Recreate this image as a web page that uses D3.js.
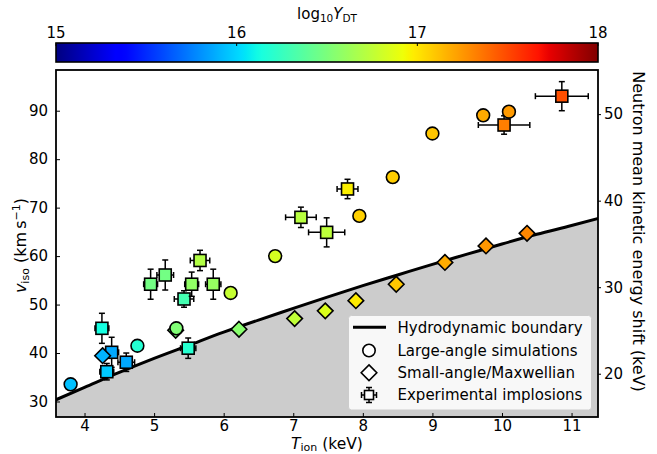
<!DOCTYPE html>
<html>
<head>
<meta charset="utf-8">
<script src="https://cdn.jsdelivr.net/npm/d3@7/dist/d3.min.js"></script>
<style>
  html, body { margin: 0; padding: 0; background: #fff; }
  svg { display: block; font-family: "DejaVu Sans", sans-serif; }
</style>
</head>
<body>
<svg id="chart" width="657" height="454"></svg>
<script>
// ---------------- data ----------------
// Hydrodynamic boundary (T_ion keV, v_iso km/s)
const boundaryT = [3.50, 4.0, 4.5, 5.0, 5.5, 6.0, 6.5, 7.0, 7.5, 8.0, 8.5, 9.0, 9.5, 10.0, 10.5, 11.0, 11.5];
const boundaryV = [29.8, 32.9, 36.0, 38.9, 41.6, 44.3, 46.8, 49.2, 51.6, 53.9, 56.1, 58.3, 60.4, 62.5, 64.5, 66.3, 68.2];

// Large-angle simulations (circles)
const largeT = [3.80, 4.76, 5.32, 6.10, 6.74, 7.95, 8.43, 9.00, 9.73, 10.10];
const largeV = [33.55, 41.5, 45.1, 52.4, 60.0, 68.3, 76.3, 85.3, 89.05, 89.8];
const largeY = [15.94, 16.18, 16.52, 16.77, 16.83, 17.07, 17.08, 17.10, 17.19, 17.24];

// Small-angle / Maxwellian (diamonds)
const smallT = [4.26, 5.31, 6.22, 7.02, 7.46, 7.90, 8.48, 9.18, 9.77, 10.36];
const smallV = [39.45, 44.7, 44.9, 47.1, 48.7, 50.8, 54.2, 58.7, 62.1, 64.7];
const smallY = [15.90, 16.50, 16.55, 16.75, 16.85, 16.98, 17.10, 17.18, 17.25, 17.30];

// Experimental implosions (squares with error bars)
const expT    = [4.25, 4.39, 4.32, 4.60, 5.49, 5.43, 4.95, 5.16, 5.54, 5.85, 5.66, 7.11, 7.48, 7.78, 10.03, 10.86];
const expV    = [45.1, 40.15, 36.15, 38.1, 41.0, 51.15, 54.2, 56.1, 54.2, 54.2, 59.1, 68.0, 64.9, 73.85, 87.05, 93.0];
const expTerr = [0.10, 0.10, 0.10, 0.12, 0.11, 0.14, 0.10, 0.12, 0.10, 0.11, 0.14, 0.22, 0.26, 0.15, 0.37, 0.38];
const expVerr = [3.1, 3.1, 1.7, 1.9, 2.1, 1.7, 3.1, 3.1, 2.5, 3.1, 2.1, 2.1, 3.0, 2.0, 1.9, 3.0];
const expY    = [16.13, 15.87, 15.97, 15.87, 16.19, 16.30, 16.47, 16.47, 16.58, 16.60, 16.70, 16.72, 16.74, 16.97, 17.33, 17.48];

const xTicks = [4, 5, 6, 7, 8, 9, 10, 11];
const yTicks = [30, 40, 50, 60, 70, 80, 90];
const yRightTicks = [20, 30, 40, 50];
const cbTicks = [15, 16, 17, 18];
const legendLabels = ["Hydrodynamic boundary", "Large-angle simulations", "Small-angle/Maxwellian", "Experimental implosions"];

// ---------------- layout ----------------
const L = 56, R = 598, T = 70, B = 417;
const svg = d3.select("#chart");

const x = d3.scaleLinear().domain([3.59, 11.38]).range([L, R]);
const y = d3.scaleLinear().domain([26.8, 98.4]).range([B, T]);
const yR = d3.scaleLinear().domain([15.0, 55.1]).range([B, T]);
const cbX = d3.scaleLinear().domain([15, 18]).range([L, R]);

// jet colormap (matplotlib segment data)
const jr = d3.scaleLinear().domain([0, 0.35, 0.66, 0.89, 1]).range([0, 0, 1, 1, 0.5]).clamp(true);
const jg = d3.scaleLinear().domain([0, 0.125, 0.375, 0.64, 0.91, 1]).range([0, 0, 1, 1, 0, 0]).clamp(true);
const jb = d3.scaleLinear().domain([0, 0.11, 0.34, 0.65, 1]).range([0.5, 1, 1, 0, 0]).clamp(true);
const norm = d3.scaleLinear().domain([15, 18]).range([0, 1]).clamp(true);
function jet(v) {
  const t = norm(v);
  return d3.rgb(jr(t) * 255, jg(t) * 255, jb(t) * 255).formatHex();
}

// ---------------- colorbar ----------------
const defs = svg.append("defs");
const grad = defs.append("linearGradient").attr("id", "jetgrad").attr("x1", "0%").attr("x2", "100%");
d3.range(0, 101).forEach(i => {
  const v = 15 + 3 * i / 100;
  grad.append("stop").attr("offset", i + "%").attr("stop-color", jet(v));
});
const cbTop = 43, cbBot = 62;
svg.append("rect").attr("x", L).attr("y", cbTop).attr("width", R - L).attr("height", cbBot - cbTop)
  .attr("fill", "url(#jetgrad)").attr("stroke", "#000").attr("stroke-width", 1.6);
svg.append("g").selectAll("line").data(cbTicks).join("line")
  .attr("x1", d => cbX(d)).attr("x2", d => cbX(d)).attr("y1", cbTop).attr("y2", cbTop + 3)
  .attr("stroke", "#000").attr("stroke-width", 1);
svg.append("g").selectAll("text").data(cbTicks).join("text")
  .attr("x", d => cbX(d)).attr("y", 38).attr("text-anchor", "middle")
  .attr("font-size", 15).attr("fill", "#000").text(d => d);
const cbTitle = svg.append("text").attr("x", (L + R) / 2).attr("y", 19).attr("text-anchor", "middle")
  .attr("font-size", 15).attr("fill", "#000");
cbTitle.append("tspan").text("log");
cbTitle.append("tspan").attr("font-size", 10.5).attr("dy", 3).text("10");
cbTitle.append("tspan").attr("dy", -3).attr("font-style", "italic").text("Y");
cbTitle.append("tspan").attr("font-size", 10.5).attr("dy", 3).text("DT");

// ---------------- plot area ----------------
defs.append("clipPath").attr("id", "plotclip").append("rect")
  .attr("x", L).attr("y", T).attr("width", R - L).attr("height", B - T);

const bpts = boundaryT.map((t, i) => [t, boundaryV[i]]);
const plot = svg.append("g").attr("clip-path", "url(#plotclip)");
plot.append("path")
  .datum(bpts)
  .attr("d", d3.area().x(d => x(d[0])).y0(B + 10).y1(d => y(d[1])).curve(d3.curveMonotoneX))
  .attr("fill", "#cccccc");
plot.append("path")
  .datum(bpts)
  .attr("d", d3.line().x(d => x(d[0])).y(d => y(d[1])).curve(d3.curveMonotoneX))
  .attr("fill", "none").attr("stroke", "#000").attr("stroke-width", 3);

// experimental squares with error bars
const expData = expT.map((t, i) => ({ t, v: expV[i], te: expTerr[i], ve: expVerr[i], c: expY[i] }));
const cap = 3;
const eg = plot.append("g");
expData.forEach(d => {
  const g = eg.append("g").attr("stroke", "#000").attr("stroke-width", 1.5);
  const cx = x(d.t), cy = y(d.v);
  const x0 = x(d.t - d.te), x1 = x(d.t + d.te), y0 = y(d.v - d.ve), y1 = y(d.v + d.ve);
  g.append("line").attr("x1", x0).attr("x2", x1).attr("y1", cy).attr("y2", cy);
  g.append("line").attr("x1", x0).attr("x2", x0).attr("y1", cy - cap).attr("y2", cy + cap);
  g.append("line").attr("x1", x1).attr("x2", x1).attr("y1", cy - cap).attr("y2", cy + cap);
  g.append("line").attr("x1", cx).attr("x2", cx).attr("y1", y0).attr("y2", y1);
  g.append("line").attr("x1", cx - cap).attr("x2", cx + cap).attr("y1", y0).attr("y2", y0);
  g.append("line").attr("x1", cx - cap).attr("x2", cx + cap).attr("y1", y1).attr("y2", y1);
  g.append("rect").attr("x", cx - 6).attr("y", cy - 6).attr("width", 12).attr("height", 12)
    .attr("fill", jet(d.c)).attr("stroke", "#000").attr("stroke-width", 1.6);
});

// diamonds
const sD = 7.8;
plot.append("g").selectAll("path").data(smallT.map((t, i) => ({ t, v: smallV[i], c: smallY[i] }))).join("path")
  .attr("d", d => `M${x(d.t)},${y(d.v) - sD}L${x(d.t) + sD},${y(d.v)}L${x(d.t)},${y(d.v) + sD}L${x(d.t) - sD},${y(d.v)}Z`)
  .attr("fill", d => jet(d.c)).attr("stroke", "#000").attr("stroke-width", 1.6).attr("stroke-linejoin", "miter");

// circles
plot.append("g").selectAll("circle").data(largeT.map((t, i) => ({ t, v: largeV[i], c: largeY[i] }))).join("circle")
  .attr("cx", d => x(d.t)).attr("cy", d => y(d.v)).attr("r", 6.4)
  .attr("fill", d => jet(d.c)).attr("stroke", "#000").attr("stroke-width", 1.6);

// ---------------- axes ----------------
const fs = 15;
const xAxis = svg.append("g").attr("transform", `translate(0,${B})`)
  .call(d3.axisBottom(x).tickValues(xTicks).tickSizeInner(-4).tickSizeOuter(0).tickPadding(3).tickFormat(d3.format("d")));
const yAxis = svg.append("g").attr("transform", `translate(${L},0)`)
  .call(d3.axisLeft(y).tickValues(yTicks).tickSizeInner(-4).tickSizeOuter(0).tickPadding(8).tickFormat(d3.format("d")));
const yAxisR = svg.append("g").attr("transform", `translate(${R},0)`)
  .call(d3.axisRight(yR).tickValues(yRightTicks).tickSizeInner(3).tickSizeOuter(0).tickPadding(3).tickFormat(d3.format("d")));
[xAxis, yAxis, yAxisR].forEach(a => {
  a.select(".domain").remove();
  a.selectAll("text").attr("font-size", fs).attr("font-family", "DejaVu Sans").attr("fill", "#000");
  a.selectAll("line").attr("stroke", "#000").attr("stroke-width", 1);
});

// frame
svg.append("rect").attr("x", L).attr("y", T).attr("width", R - L).attr("height", B - T)
  .attr("fill", "none").attr("stroke", "#000").attr("stroke-width", 1.8);

// axis titles
const xl = svg.append("text").attr("x", (L + R) / 2).attr("y", 449).attr("text-anchor", "middle")
  .attr("font-size", 15.5).attr("fill", "#000");
xl.append("tspan").attr("font-style", "italic").text("T");
xl.append("tspan").attr("font-size", 11).attr("dy", 2).text("ion");
xl.append("tspan").attr("dy", -2).text(" (keV)");

const yl = svg.append("text").attr("transform", `translate(26,${(T + B) / 2 + 2}) rotate(-90)`)
  .attr("text-anchor", "middle").attr("font-size", 16).attr("fill", "#000");
yl.append("tspan").attr("font-style", "italic").text("v");
yl.append("tspan").attr("font-size", 11).attr("dy", 3).text("iso");
yl.append("tspan").attr("dy", -3).text(" (km\u2009s");
yl.append("tspan").attr("font-size", 11).attr("dy", -6).text("\u22121");
yl.append("tspan").attr("dy", 6).text(")");

svg.append("text").attr("transform", `translate(633,${(T + B) / 2 - 12}) rotate(90)`)
  .attr("text-anchor", "middle").attr("font-size", 16).attr("fill", "#000")
  .text("Neutron mean kinetic energy shift (keV)");

// ---------------- legend ----------------
const lg = svg.append("g");
lg.append("rect").attr("x", 348.5).attr("y", 315.5).attr("width", 243).attr("height", 94.5).attr("rx", 3)
  .attr("fill", "#fff").attr("fill-opacity", 0.85).attr("stroke", "#cccccc").attr("stroke-width", 1);
const rowY = [327.3, 350.5, 372.7, 395];
const symX = 369;
lg.append("line").attr("x1", 353).attr("x2", 386).attr("y1", rowY[0]).attr("y2", rowY[0])
  .attr("stroke", "#000").attr("stroke-width", 3);
lg.append("circle").attr("cx", symX).attr("cy", rowY[1]).attr("r", 6.2)
  .attr("fill", "#fff").attr("stroke", "#000").attr("stroke-width", 1.6);
lg.append("path").attr("d", `M${symX},${rowY[2] - sD}L${symX + sD},${rowY[2]}L${symX},${rowY[2] + sD}L${symX - sD},${rowY[2]}Z`)
  .attr("fill", "#fff").attr("stroke", "#000").attr("stroke-width", 1.6);
{
  const g = lg.append("g").attr("stroke", "#000").attr("stroke-width", 1.5);
  const cy = rowY[3], e = 7.5;
  g.append("line").attr("x1", symX - e).attr("x2", symX + e).attr("y1", cy).attr("y2", cy);
  g.append("line").attr("x1", symX).attr("x2", symX).attr("y1", cy - e).attr("y2", cy + e);
  [-e, e].forEach(o => {
    g.append("line").attr("x1", symX + o).attr("x2", symX + o).attr("y1", cy - cap).attr("y2", cy + cap);
    g.append("line").attr("x1", symX - cap).attr("x2", symX + cap).attr("y1", cy + o).attr("y2", cy + o);
  });
  g.append("rect").attr("x", symX - 4.5).attr("y", cy - 4.5).attr("width", 9).attr("height", 9)
    .attr("fill", "#fff").attr("stroke", "#000").attr("stroke-width", 1.6);
}
lg.selectAll("text.lab").data(legendLabels).join("text").attr("class", "lab")
  .attr("x", 397.5).attr("y", (d, i) => rowY[i] + 5.3).attr("font-size", 15).attr("fill", "#000").text(d => d);
</script>
</body>
</html>
